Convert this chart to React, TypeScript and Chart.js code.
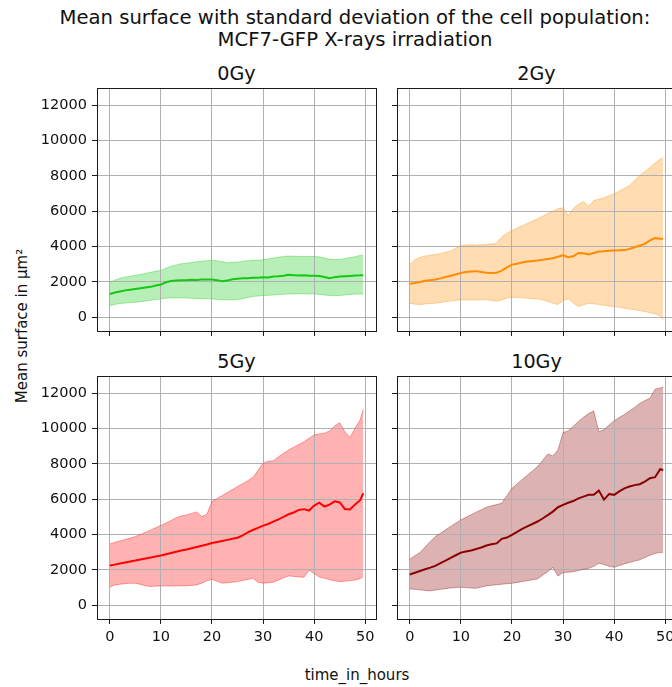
import React, { useEffect, useRef } from "react";
import { Chart, registerables } from "chart.js";

Chart.register(...registerables);

// ---------- data ----------
const times = [0, 1, 2, 3, 4, 5, 6, 7, 8, 9, 10, 11, 12, 13, 14, 15, 16, 17, 18, 19, 20, 21, 22, 23, 24, 25, 26, 27, 28, 29, 30, 31, 32, 33, 34, 35, 36, 37, 38, 39, 40, 41, 42, 43, 44, 45, 46, 47, 48, 49, 49.6];

const xTicks = [0, 10, 20, 30, 40, 50];
const xTickLabels = ["0", "10", "20", "30", "40", "50"];
const yTicks = [0, 2000, 4000, 6000, 8000, 10000, 12000];
const yTickLabels = ["0", "2000", "4000", "6000", "8000", "10000", "12000"];

const doses = ["0Gy", "2Gy", "5Gy", "10Gy"];

const mean0 = [1320, 1400, 1460, 1520, 1560, 1600, 1640, 1680, 1720, 1800, 1850, 1980, 2050, 2080, 2090, 2100, 2120, 2110, 2130, 2140, 2135, 2100, 2040, 2080, 2150, 2180, 2200, 2210, 2240, 2230, 2270, 2250, 2300, 2320, 2350, 2400, 2380, 2360, 2370, 2350, 2345, 2330, 2280, 2210, 2270, 2300, 2320, 2340, 2360, 2370, 2380];
const upper0 = [1985, 2100, 2200, 2270, 2320, 2360, 2420, 2480, 2540, 2600, 2650, 2780, 2880, 2960, 3030, 3060, 3100, 3140, 3170, 3200, 3215, 3200, 3150, 3080, 3110, 3120, 3170, 3200, 3240, 3220, 3250, 3300, 3350, 3400, 3440, 3460, 3450, 3440, 3450, 3440, 3440, 3420, 3350, 3280, 3270, 3270, 3330, 3380, 3420, 3500, 3515];
const lower0 = [660, 720, 780, 800, 830, 850, 880, 920, 960, 1000, 1040, 1080, 1100, 1090, 1100, 1095, 1070, 1060, 1050, 1045, 1040, 1000, 990, 985, 980, 985, 1050, 1120, 1180, 1200, 1230, 1240, 1260, 1280, 1300, 1320, 1310, 1330, 1320, 1310, 1325, 1300, 1260, 1230, 1225, 1230, 1260, 1290, 1310, 1320, 1320];

const mean2 = [1890, 1940, 2000, 2060, 2100, 2140, 2200, 2280, 2350, 2420, 2510, 2560, 2590, 2610, 2560, 2520, 2510, 2520, 2640, 2820, 2980, 3030, 3100, 3150, 3180, 3210, 3250, 3300, 3340, 3420, 3510, 3400, 3450, 3640, 3620, 3550, 3640, 3720, 3740, 3770, 3780, 3790, 3800, 3860, 3960, 4060, 4150, 4350, 4480, 4440, 4440];
const upper2 = [2990, 3250, 3400, 3470, 3510, 3550, 3600, 3680, 3740, 3900, 4060, 4090, 4100, 4080, 4110, 4120, 4150, 4200, 4560, 4750, 4910, 5050, 5180, 5320, 5450, 5570, 5720, 5870, 6000, 6140, 6200, 5760, 6150, 6400, 6560, 6280, 6610, 6680, 6760, 6880, 6990, 7150, 7300, 7460, 7750, 8030, 8250, 8480, 8730, 8950, 9030];
const lower2 = [790, 740, 720, 750, 780, 790, 830, 880, 920, 960, 980, 990, 970, 980, 990, 985, 950, 910, 980, 1080, 1130, 1120, 1100, 1070, 1050, 1040, 980, 900, 800, 720, 950, 1040, 800, 610, 700, 790, 760, 720, 680, 640, 605, 560, 510, 460, 420, 380, 320, 250, 190, 80, -150];

const mean5 = [2245, 2300, 2360, 2420, 2480, 2530, 2590, 2650, 2700, 2760, 2820, 2890, 2960, 3030, 3100, 3160, 3230, 3300, 3370, 3440, 3520, 3580, 3640, 3700, 3760, 3820, 3960, 4130, 4260, 4380, 4510, 4600, 4730, 4860, 5000, 5150, 5250, 5400, 5440, 5360, 5640, 5810, 5590, 5700, 5880, 5820, 5450, 5420, 5700, 5950, 6340];
const upper5 = [3470, 3560, 3640, 3720, 3800, 3890, 4010, 4130, 4260, 4390, 4510, 4650, 4800, 4950, 5050, 5110, 5200, 5280, 5020, 5150, 5870, 6040, 6210, 6380, 6550, 6720, 6880, 7050, 7230, 7630, 8040, 8150, 8180, 8400, 8600, 8790, 8950, 9100, 9260, 9450, 9640, 9700, 9740, 9870, 10150, 10340, 9830, 9500, 10020, 10500, 11100];
const lower5 = [1020, 1150, 1190, 1220, 1240, 1245, 1180, 1100, 1060, 1080, 1095, 1100, 1090, 1095, 1100, 1095, 1120, 1150, 1250, 1380, 1470, 1360, 1245, 1270, 1300, 1340, 1400, 1460, 1530, 1300, 1250, 1270, 1300, 1420, 1550, 1660, 1630, 1600, 1580, 1980, 1800, 1600, 1530, 1450, 1380, 1340, 1360, 1400, 1430, 1500, 1620];

const mean10 = [1740, 1840, 1940, 2040, 2130, 2230, 2380, 2530, 2680, 2830, 2980, 3040, 3100, 3180, 3270, 3380, 3450, 3500, 3760, 3830, 3980, 4150, 4320, 4460, 4600, 4740, 4910, 5100, 5300, 5550, 5680, 5800, 5900, 6050, 6150, 6250, 6250, 6490, 5980, 6300, 6250, 6450, 6620, 6720, 6800, 6850, 7000, 7190, 7250, 7700, 7660];
const upper10 = [2600, 2800, 2980, 3300, 3600, 3890, 4080, 4270, 4460, 4650, 4830, 4980, 5120, 5270, 5410, 5550, 5630, 5700, 5770, 6200, 6620, 6870, 7120, 7360, 7600, 7850, 8200, 8570, 8450, 8790, 9780, 9870, 10130, 10400, 10650, 10850, 11000, 9830, 9930, 10200, 10450, 10630, 10800, 11000, 11200, 11430, 11580, 11720, 12230, 12300, 12340];
const lower10 = [925, 900, 870, 840, 810, 860, 900, 940, 980, 1000, 1020, 1000, 970, 960, 1030, 1095, 1130, 1160, 1190, 1220, 1245, 1290, 1340, 1390, 1440, 1490, 1700, 1900, 2150, 1650, 1850, 1870, 1900, 1960, 2030, 2090, 2200, 2380, 2300, 2200, 2150, 2250, 2340, 2420, 2500, 2570, 2700, 2830, 2940, 2980, 3000];

// ---------- styling / layout ----------
const FONT = "DejaVu Sans";
const TEXT = "#111";

type Panel = {
  title: string;
  mean: number[];
  upper: number[];
  lower: number[];
  rgb: string;
  left: number;
  top: number;
  showYLabels: boolean;
  showXLabels: boolean;
};

const PLOT_W = 279;
const PLOT_H = 243;
const PAD_TOP = 16;
const PAD_RIGHT = 16;

const panels: Panel[] = [
  { title: doses[0], mean: mean0, upper: upper0, lower: lower0, rgb: "20,200,20", left: 97, top: 88, showYLabels: true, showXLabels: false },
  { title: doses[1], mean: mean2, upper: upper2, lower: lower2, rgb: "255,140,0", left: 397, top: 88, showYLabels: false, showXLabels: false },
  { title: doses[2], mean: mean5, upper: upper5, lower: lower5, rgb: "255,0,0", left: 97, top: 376, showYLabels: true, showXLabels: true },
  { title: doses[3], mean: mean10, upper: upper10, lower: lower10, rgb: "139,0,0", left: 397, top: 376, showYLabels: false, showXLabels: true },
];

const framePlugin = {
  id: "frame",
  afterDatasetsDraw(chart: any) {
    const { ctx, chartArea } = chart;
    const { left, top, right, bottom } = chartArea;
    ctx.save();
    ctx.strokeStyle = "#1a1a1a";
    ctx.lineWidth = 1;
    ctx.strokeRect(left + 0.5, top + 0.5, right - left, bottom - top);
    ctx.restore();
  },
};

function pts(vals: number[]) {
  return times.map((t, i) => ({ x: t, y: vals[i] }));
}

function PanelChart({ p }: { p: Panel }) {
  const ref = useRef<HTMLCanvasElement | null>(null);
  const yw = p.showYLabels ? p.left : 20;
  const xh = p.showXLabels ? 40 : 18;
  const width = yw + PLOT_W + PAD_RIGHT;
  const height = PAD_TOP + PLOT_H + xh;

  useEffect(() => {
    const canvas = ref.current!;
    const gridOpts = { color: "#b0b0b0", lineWidth: 1, tickColor: "#1a1a1a", tickLength: 5, tickWidth: 1, drawTicks: true };
    const chart = new Chart(canvas, {
      type: "line",
      data: {
        datasets: [
          { label: "mean", data: pts(p.mean), borderColor: `rgb(${p.rgb})`, borderWidth: 2, pointRadius: 0, fill: false, tension: 0 },
          { label: "upper", data: pts(p.upper), borderColor: `rgba(${p.rgb},0.35)`, backgroundColor: `rgba(${p.rgb},0.3)`, borderWidth: 1, pointRadius: 0, fill: "+1", tension: 0 },
          { label: "lower", data: pts(p.lower), borderColor: `rgba(${p.rgb},0.35)`, borderWidth: 1, pointRadius: 0, fill: false, tension: 0 },
        ],
      },
      options: {
        animation: false,
        responsive: false,
        events: [],
        layout: { padding: { top: PAD_TOP, right: PAD_RIGHT, left: 0, bottom: 0 } },
        plugins: {
          legend: { display: false },
          tooltip: { enabled: false },
          title: { display: false },
          filler: { drawTime: "beforeDraw" },
        },
        scales: {
          x: {
            type: "linear",
            min: -2.5,
            max: 52.1,
            afterBuildTicks: (s: any) => {
              s.ticks = xTicks.map((v) => ({ value: v }));
            },
            afterFit: (s: any) => {
              s.height = xh;
            },
            ticks: {
              display: p.showXLabels,
              autoSkip: false,
              maxRotation: 0,
              padding: 5,
              color: TEXT,
              font: { family: FONT, size: 14.5 },
              callback: (v: any) => xTickLabels[xTicks.indexOf(Number(v))] ?? String(v),
            },
            grid: gridOpts,
            border: { display: false },
          },
          y: {
            type: "linear",
            min: -780,
            max: 12980,
            afterBuildTicks: (s: any) => {
              s.ticks = yTicks.map((v) => ({ value: v }));
            },
            afterFit: (s: any) => {
              s.width = yw;
            },
            ticks: {
              display: p.showYLabels,
              autoSkip: false,
              padding: 5,
              color: TEXT,
              font: { family: FONT, size: 14.5 },
              callback: (v: any) => yTickLabels[yTicks.indexOf(Number(v))] ?? String(v),
            },
            grid: gridOpts,
            border: { display: false },
          },
        },
      },
      plugins: [framePlugin],
    } as any);
    return () => chart.destroy();
  }, []);

  return (
    <canvas
      ref={ref}
      width={width}
      height={height}
      style={{ position: "absolute", left: p.left - yw, top: p.top - PAD_TOP, width, height }}
    />
  );
}

function Label({ text, cx, cy, size, lh, rotate }: { text: React.ReactNode; cx: number; cy: number; size: number; lh?: string; rotate?: boolean }) {
  return (
    <div
      style={{
        position: "absolute",
        left: cx,
        top: cy,
        transform: `translate(-50%, -50%)${rotate ? " rotate(-90deg)" : ""}`,
        fontFamily: FONT,
        fontSize: size,
        lineHeight: lh ?? "1.2",
        whiteSpace: "nowrap",
        color: TEXT,
        textAlign: "center",
      }}
    >
      {text}
    </div>
  );
}

export default function App() {
  return (
    <div style={{ position: "fixed", left: 0, top: 0, width: 672, height: 687, overflow: "hidden", background: "#fff" }}>
      <Label text={<>Mean surface with standard deviation of the cell population:<br />MCF7-GFP X-rays irradiation</>} cx={355} cy={28.5} size={19.6} lh="22px" />
      <Label text={doses[0]} cx={236.5} cy={74} size={19.2} />
      <Label text={doses[1]} cx={536.5} cy={74} size={19.2} />
      <Label text={doses[2]} cx={236.5} cy={362} size={19.2} />
      <Label text={doses[3]} cx={536.5} cy={362} size={19.2} />
      <Label text={<>Mean surface in µm²</>} cx={22} cy={326} size={15} rotate />
      <Label text="time_in_hours" cx={357} cy={675} size={15} />
      {panels.map((p) => (
        <PanelChart key={p.title} p={p} />
      ))}
    </div>
  );
}
